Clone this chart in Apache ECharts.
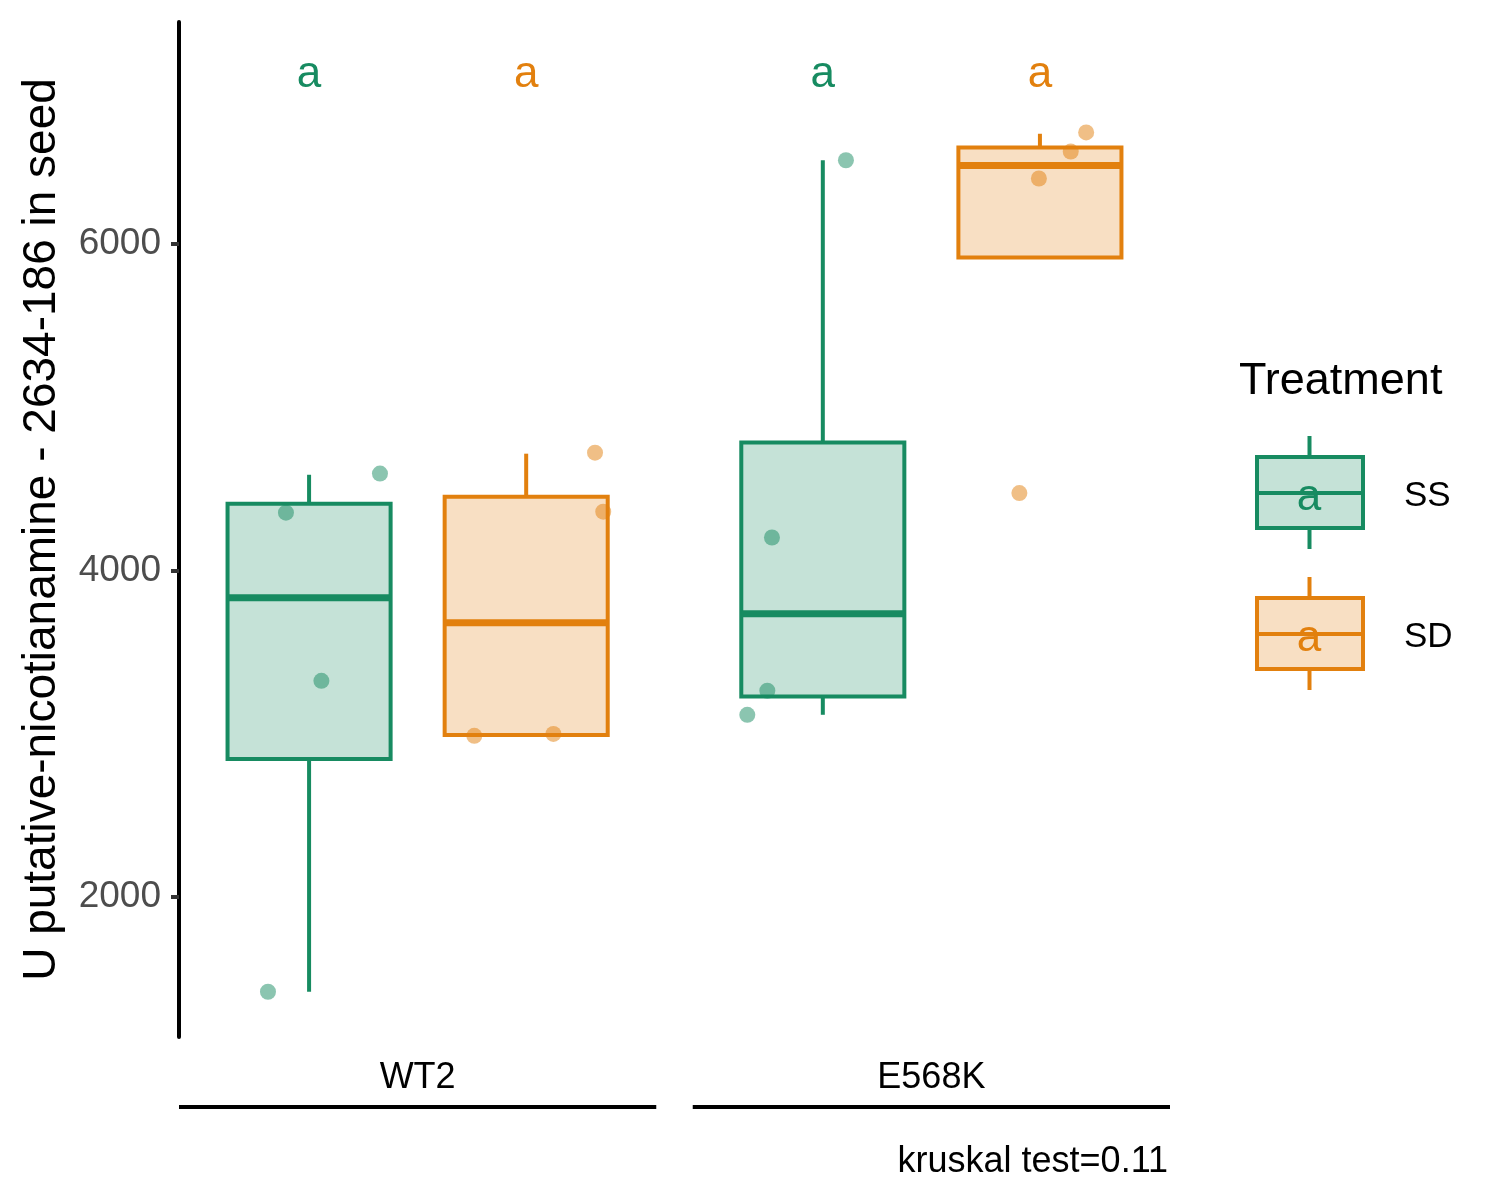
<!DOCTYPE html>
<html>
<head>
<meta charset="utf-8">
<script src="https://cdn.jsdelivr.net/npm/echarts@6/dist/echarts.min.js"></script>
<style>html,body{margin:0;padding:0;background:#fff}#c{width:1500px;height:1200px}</style>
</head>
<body>
<div id="c"></div>
<script>
// ---- data ----
const genotypes = ['WT2', 'E568K'];
const treatments = ['SS', 'SD'];
// box stats per genotype: [lower whisker, Q1, median, Q3, upper whisker]
const boxSS = [[1421, 2846, 3832, 4408, 4585], [3116, 3228, 3734, 4783, 6510]];
const boxSD = [[2987, 2993, 3679, 4451, 4714], [5914, 5914, 6478, 6588, 6672]];
// raw points per genotype (values) and their horizontal jitter (x units)
const pointsSS = [[4592, 4353, 3324, 1421], [6510, 4201, 3263, 3116]];
const jitterSS = [[0.138, -0.045, 0.024, -0.080], [0.045, -0.099, -0.108, -0.147]];
const pointsSD = [[4720, 4359, 2987, 2999], [6680, 6563, 6398, 4473]];
const jitterSD = [[0.134, 0.150, -0.101, 0.053], [0.090, 0.060, -0.002, -0.040]];
// significance letters per genotype
const lettersSS = ['a', 'a'];
const lettersSD = ['a', 'a'];
const letterY = 7035;
const yTicks = [2000, 4000, 6000];
const kruskalText = 'kruskal test=0.11';
const yTitle = 'U putative-nicotianamine - 2634-186 in seed';

// ---- styling / layout ----
const GREEN = '#178B61';
const ORANGE = '#E2800E';
const FONT = 'Liberation Sans, Arial, Helvetica, sans-serif';
const DODGE = 0.2113;
const BOX_W = 0.3174;
const HALF_BAND = 0.4645;

function hexA(hex, a) {
  const n = parseInt(hex.slice(1), 16);
  return 'rgba(' + ((n >> 16) & 255) + ',' + ((n >> 8) & 255) + ',' + (n & 255) + ',' + a + ')';
}

function boxData(stats, off) {
  return stats.map((s, i) => [i + 1 + off].concat(s));
}
function pointData(pts, jit, off) {
  const out = [];
  pts.forEach((arr, i) => arr.forEach((v, j) => out.push([i + 1 + off + jit[i][j], v])));
  return out;
}
function letterData(letters, off) {
  return letters.map((l, i) => [i + 1 + off, letterY, l]);
}

function makeBoxRender(color) {
  return function (params, api) {
    const x = api.value(0);
    const lo = api.value(1), q1 = api.value(2), med = api.value(3), q3 = api.value(4), hi = api.value(5);
    const tl = api.coord([x - BOX_W / 2, q3]);
    const br = api.coord([x + BOX_W / 2, q1]);
    const pHi = api.coord([x, hi]);
    const pLo = api.coord([x, lo]);
    const pMedL = api.coord([x - BOX_W / 2, med]);
    const pMedR = api.coord([x + BOX_W / 2, med]);
    const cx = api.coord([x, q3])[0];
    const children = [];
    if (hi > q3) children.push({ type: 'line', shape: { x1: cx, y1: pHi[1], x2: cx, y2: tl[1] }, style: { stroke: color, lineWidth: 4 } });
    if (lo < q1) children.push({ type: 'line', shape: { x1: cx, y1: br[1], x2: cx, y2: pLo[1] }, style: { stroke: color, lineWidth: 4 } });
    children.push({ type: 'rect', shape: { x: tl[0], y: tl[1], width: br[0] - tl[0], height: br[1] - tl[1] }, style: { fill: hexA(color, 0.25), stroke: color, lineWidth: 4 } });
    children.push({ type: 'line', shape: { x1: pMedL[0], y1: pMedL[1], x2: pMedR[0], y2: pMedR[1] }, style: { stroke: color, lineWidth: 7 } });
    return { type: 'group', children: children };
  };
}

function makeLetterRender(color) {
  return function (params, api) {
    const p = api.coord([api.value(0), api.value(1)]);
    return { type: 'text', style: { text: api.value(2), x: p[0], y: p[1], fill: color, font: '44px ' + FONT, align: 'center', verticalAlign: 'middle' } };
  };
}

const chart = echarts.init(document.getElementById('c'), null, { renderer: 'canvas' });

function legendItem(y0, color, label) {
  // y0 = top of box
  return [
    { type: 'line', shape: { x1: 1309.5, y1: y0 - 21, x2: 1309.5, y2: y0 }, style: { stroke: color, lineWidth: 4 } },
    { type: 'line', shape: { x1: 1309.5, y1: y0 + 71, x2: 1309.5, y2: y0 + 92 }, style: { stroke: color, lineWidth: 4 } },
    { type: 'rect', shape: { x: 1257, y: y0, width: 106, height: 71 }, style: { fill: hexA(color, 0.25), stroke: color, lineWidth: 4 } },
    { type: 'line', shape: { x1: 1257, y1: y0 + 36, x2: 1363, y2: y0 + 36 }, style: { stroke: color, lineWidth: 4 } },
    { type: 'text', x: 1309, y: y0 + 41, style: { text: 'a', fill: color, font: '44px ' + FONT, align: 'center', verticalAlign: 'middle' } },
    { type: 'text', x: 1404, y: y0 + 39, style: { text: label, fill: '#000', font: '35px ' + FONT, align: 'left', verticalAlign: 'middle' } }
  ];
}

const option = {
  backgroundColor: '#fff',
  animation: false,
  textStyle: { fontFamily: FONT },
  title: {
    text: kruskalText, right: 332, top: 1144, padding: 0,
    textStyle: { fontSize: 36, fontWeight: 'normal', color: '#000', fontFamily: FONT }
  },
  grid: { left: 179, right: 330, top: 22, bottom: 163 },
  xAxis: {
    type: 'value', min: 1 - HALF_BAND, max: 2 + HALF_BAND,
    splitLine: { show: false },
    axisLine: { show: false },
    axisTick: { show: false },
    axisLabel: {
      customValues: [1, 2],
      formatter: v => genotypes[Math.round(v) - 1] || '',
      color: '#000', fontSize: 36, margin: 23, fontFamily: FONT
    }
  },
  yAxis: {
    type: 'value', min: 1144, max: 7356,
    splitLine: { show: false },
    axisLine: { show: true, lineStyle: { color: '#000', width: 4 } },
    axisTick: { show: true, customValues: yTicks, length: 8, lineStyle: { color: '#333', width: 4 } },
    axisLabel: { customValues: yTicks, formatter: v => String(v), color: '#4d4d4d', fontSize: 37, margin: 18, fontFamily: FONT },
    name: yTitle, nameLocation: 'middle', nameRotate: 90, nameGap: 114,
    nameTextStyle: { fontSize: 46, color: '#000', fontFamily: FONT }
  },
  graphic: [
    { type: 'text', x: 1239, y: 382, style: { text: 'Treatment', fill: '#000', font: '45px ' + FONT, align: 'left', verticalAlign: 'middle' } }
  ].concat(legendItem(457, GREEN, treatments[0])).concat(legendItem(598, ORANGE, treatments[1])),
  series: [
    {
      type: 'scatter', name: 'SS points', z: 2,
      data: pointData(pointsSS, jitterSS, -DODGE),
      symbolSize: 16, itemStyle: { color: GREEN, opacity: 0.5 }
    },
    {
      type: 'scatter', name: 'SD points', z: 2,
      data: pointData(pointsSD, jitterSD, DODGE),
      symbolSize: 16, itemStyle: { color: ORANGE, opacity: 0.5 }
    },
    { type: 'custom', name: 'SS', z: 3, data: boxData(boxSS, -DODGE), renderItem: makeBoxRender(GREEN), clip: false },
    { type: 'custom', name: 'SD', z: 3, data: boxData(boxSD, DODGE), renderItem: makeBoxRender(ORANGE), clip: false },
    { type: 'custom', name: 'SS letters', z: 4, data: letterData(lettersSS, -DODGE), renderItem: makeLetterRender(GREEN), clip: false },
    { type: 'custom', name: 'SD letters', z: 4, data: letterData(lettersSD, DODGE), renderItem: makeLetterRender(ORANGE), clip: false },
    {
      type: 'custom', name: 'brackets', z: 4, clip: false,
      data: genotypes.map((g, i) => [i + 1]),
      renderItem: function (params, api) {
        const c = api.value(0);
        const a = api.coord([c - HALF_BAND, 4000]);
        const b = api.coord([c + HALF_BAND, 4000]);
        const yb = params.coordSys.y + params.coordSys.height + 70;
        return { type: 'line', shape: { x1: a[0], y1: yb, x2: b[0], y2: yb }, style: { stroke: '#000', lineWidth: 4 } };
      }
    }
  ]
};
chart.setOption(option);
</script>
</body>
</html>
